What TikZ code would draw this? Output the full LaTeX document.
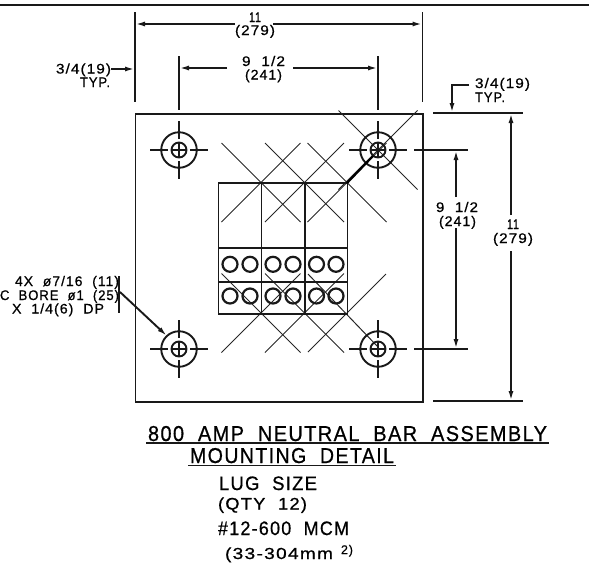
\documentclass[tikz,border=0pt]{standalone}
\usepackage{fontspec}
\usepackage{graphicx}
\setmainfont[LetterSpace=7,FakeBold=0.7,WordSpace=2]{Liberation Sans}
\usetikzlibrary{arrows.meta}
\newcommand{\cadtxt}[3]{\resizebox{#1pt}{#2pt}{\rule{0pt}{7.2pt}\smash{#3}}}
\tikzset{
  x=1pt,y=-1pt,
  heavy/.style={line width=1.9pt,black!90,line cap=butt},
  thin/.style={line width=1pt,black!85},
  mid/.style={line width=1.4pt,black!90},
  tip/.style={-{Latex[length=10pt,width=5pt]}},
  lbl/.style={inner sep=0pt,outer sep=0pt,anchor=base west},
}
\newcommand{\hole}[3]{%
  \coordinate (#1) at (#2,#3);
  \node[circle,draw,heavy,minimum size=35.5pt,inner sep=0pt] (#1o) at (#1) {};
  \node[circle,draw,heavy,minimum size=15pt,inner sep=0pt] (#1i) at (#1) {};
  \draw[heavy] ([shift={(-29,0)}]#1) -- ([shift={(-11,0)}]#1);
  \draw[heavy] ([shift={(11,0)}]#1) -- ([shift={(29,0)}]#1);
  \draw[heavy] ([shift={(0,-29)}]#1) -- ([shift={(0,-11)}]#1);
  \draw[heavy] ([shift={(0,11)}]#1) -- ([shift={(0,29)}]#1);
  \draw[mid] ([shift={(-7.5,0)}]#1) -- ([shift={(7.5,0)}]#1);
  \draw[mid] ([shift={(0,-7.5)}]#1) -- ([shift={(0,7.5)}]#1);
}
\newcommand{\xmark}[3]{%
  \draw[thin] (#2-39.5,#3-39.5) -- (#2+39.5,#3+39.5);
  \draw[thin] (#2-39.5,#3+39.5) -- (#2+39.5,#3-39.5);
}
\begin{document}
\begin{tikzpicture}
\useasboundingbox (0,0) rectangle (589,571);
\coordinate (ruleL) at (0,5); \coordinate (ruleR) at (589,5);
\draw[heavy] (ruleL) -- (ruleR);
% plate
\node[draw,heavy,minimum width=287.5pt,minimum height=288pt,inner sep=0pt,anchor=north west] (plate) at (134.5,113) {};
% X marks
\xmark{x1}{261}{182.5}
\xmark{x2}{304.5}{182.5}
\xmark{x3}{347}{182.5}
\xmark{x4}{378}{150}
\xmark{x5}{261}{313}
\xmark{x6}{304.5}{313}
\draw[thin] (308,352) -- (386,274);
\draw[thin] (308,274) -- (378,347);
% block
\foreach \xa/\bw/\nm in {217.5/43/a,260.5/43.5/b,304/42.5/c}{
  \node[draw,heavy,minimum width=\bw pt,minimum height=65pt,inner sep=0pt,anchor=north west] (top\nm) at (\xa,182) {};
  \node[draw,heavy,minimum width=\bw pt,minimum height=34pt,inner sep=0pt,anchor=north west] (mid\nm) at (\xa,247) {};
  \node[draw,heavy,minimum width=\bw pt,minimum height=32pt,inner sep=0pt,anchor=north west] (bot\nm) at (\xa,281) {};
}
\foreach \cx/\cn in {230/a,250/b,273/c,293/d,316.5/e,336/f}{
  \foreach \cy/\rn in {264.3/u,296/v}{
    \node[circle,draw,line width=2.2pt,black!90,minimum size=15pt,inner sep=0pt] (lug\cn\rn) at (\cx,\cy) {};
  }
}
% holes
\hole{hA}{179}{150}
\hole{hB}{378}{150}
\hole{hC}{179}{349}
\hole{hD}{378}{349}
% leader on top right hole
\coordinate (ldrA) at (347,183); \coordinate (ldrB) at (373,156);
\draw[line width=2.2pt] (ldrA) -- (ldrB);
% dim 11 top
\coordinate (e1a) at (135,12); \coordinate (e1b) at (135,102);
\coordinate (e2a) at (422.5,12); \coordinate (e2b) at (422.5,102);
\draw[heavy] (e1a) -- (e1b); \draw[heavy] (e2a) -- (e2b);
\coordinate (d1a) at (235,24); \coordinate (d1b) at (273,24);
\coordinate (d1l) at (135,24); \coordinate (d1r) at (422.5,24);
\draw[heavy,tip] (d1a) -- (d1l); \draw[heavy,tip] (d1b) -- (d1r);
\node[lbl] (t11) at (249,22) {\cadtxt{12}{10}{11}};
\node[lbl] (t279) at (235,35) {\cadtxt{40}{10}{(279)}};
% dim 9 1/2 top
\coordinate (e3a) at (179,56); \coordinate (e3b) at (179,110);
\coordinate (e4a) at (378,56); \coordinate (e4b) at (378,110);
\draw[heavy] (e3a) -- (e3b); \draw[heavy] (e4a) -- (e4b);
\coordinate (d2a) at (227,68); \coordinate (d2b) at (293,68);
\coordinate (d2l) at (179,68); \coordinate (d2r) at (378,68);
\draw[heavy,tip] (d2a) -- (d2l); \draw[heavy,tip] (d2b) -- (d2r);
\node[lbl] (t912) at (242,66) {\cadtxt{43}{10}{9 1/2}};
\node[lbl] (t241) at (245,79.5) {\cadtxt{37}{10}{(241)}};
% 3/4 left
\node[lbl] (t34l) at (56,73.5) {\cadtxt{55}{10}{3/4(19)}};
\node[lbl] (ttl) at (80,87) {\cadtxt{30}{10}{TYP.}};
\coordinate (a34) at (111,69); \coordinate (b34) at (135,69);
\draw[heavy,tip] (a34) -- (b34);
% 3/4 right
\coordinate (c1) at (469,85); \coordinate (c2) at (452,85); \coordinate (c3) at (452,113);
\draw[heavy,tip] (c1) -- (c2) -- (c3);
\node[lbl] (t34r) at (475,88) {\cadtxt{55}{10}{3/4(19)}};
\node[lbl] (ttr) at (475,102) {\cadtxt{30}{10}{TYP.}};
% right extension
\coordinate (x11a) at (433,113); \coordinate (x11b) at (523,113);
\coordinate (x12a) at (433,401); \coordinate (x12b) at (523,401);
\draw[heavy] (x11a) -- (x11b); \draw[heavy] (x12a) -- (x12b);
\coordinate (x14a) at (414,150); \coordinate (x14b) at (468,150);
\coordinate (x15a) at (414,349); \coordinate (x15b) at (468,349);
\draw[heavy] (x14a) -- (x14b); \draw[heavy] (x15a) -- (x15b);
% dim 9 1/2 right
\coordinate (v1t) at (456,150); \coordinate (v1a) at (456,197);
\coordinate (v1b) at (456,228); \coordinate (v1e) at (456,349);
\draw[heavy,tip] (v1a) -- (v1t); \draw[heavy,tip] (v1b) -- (v1e);
\node[lbl] (t912r) at (436,212) {\cadtxt{42}{10}{9 1/2}};
\node[lbl] (t241r) at (439,226) {\cadtxt{37}{10}{(241)}};
% dim 11 right
\coordinate (v2t) at (511,113); \coordinate (v2a) at (511,215);
\coordinate (v2b) at (511,251); \coordinate (v2e) at (511,401);
\draw[heavy,tip] (v2a) -- (v2t); \draw[heavy,tip] (v2b) -- (v2e);
\node[lbl] (t11r) at (507,229) {\cadtxt{12}{10}{11}};
\node[lbl] (t279r) at (493,243) {\cadtxt{40}{10}{(279)}};
% left note
\node[lbl] (n1) at (15,286) {\cadtxt{104}{10}{4X ø7/16 (11)}};
\node[lbl] (n2) at (0,300) {\cadtxt{119}{10}{C BORE ø1 (25)}};
\node[lbl] (n3) at (12,313.5) {\cadtxt{92}{10}{X 1/4(6) DP}};
\coordinate (b1) at (119,276); \coordinate (b2) at (119,313);
\draw[heavy] (b1) -- (b2);
\coordinate (l1) at (120,292); \coordinate (l2) at (167,336);
\draw[heavy,tip] (l1) -- (l2);
% title
\node[lbl] (tt1) at (148,441) {\cadtxt{399}{15.5}{800 AMP NEUTRAL BAR ASSEMBLY}};
\node[lbl] (tt2) at (190,463) {\cadtxt{204}{15.5}{MOUNTING DETAIL}};
\coordinate (u1a) at (146,443); \coordinate (u1b) at (549,443);
\coordinate (u2a) at (188,465.5); \coordinate (u2b) at (396,465.5);
\draw[mid] (u1a) -- (u1b); \draw[mid] (u2a) -- (u2b);
\node[lbl] (s1) at (219,490) {\cadtxt{98}{14}{LUG SIZE}};
\node[lbl] (s2) at (218,509.5) {\cadtxt{89}{12}{(QTY 12)}};
\node[lbl] (s3) at (218,535) {\cadtxt{131}{14}{\#12-600 MCM}};
\node[lbl] (s4) at (225,559) {\cadtxt{108}{11.5}{(33-304mm}\hspace{8pt}\raisebox{5pt}{\cadtxt{12}{9}{2)}}};
\end{tikzpicture}
\end{document}
